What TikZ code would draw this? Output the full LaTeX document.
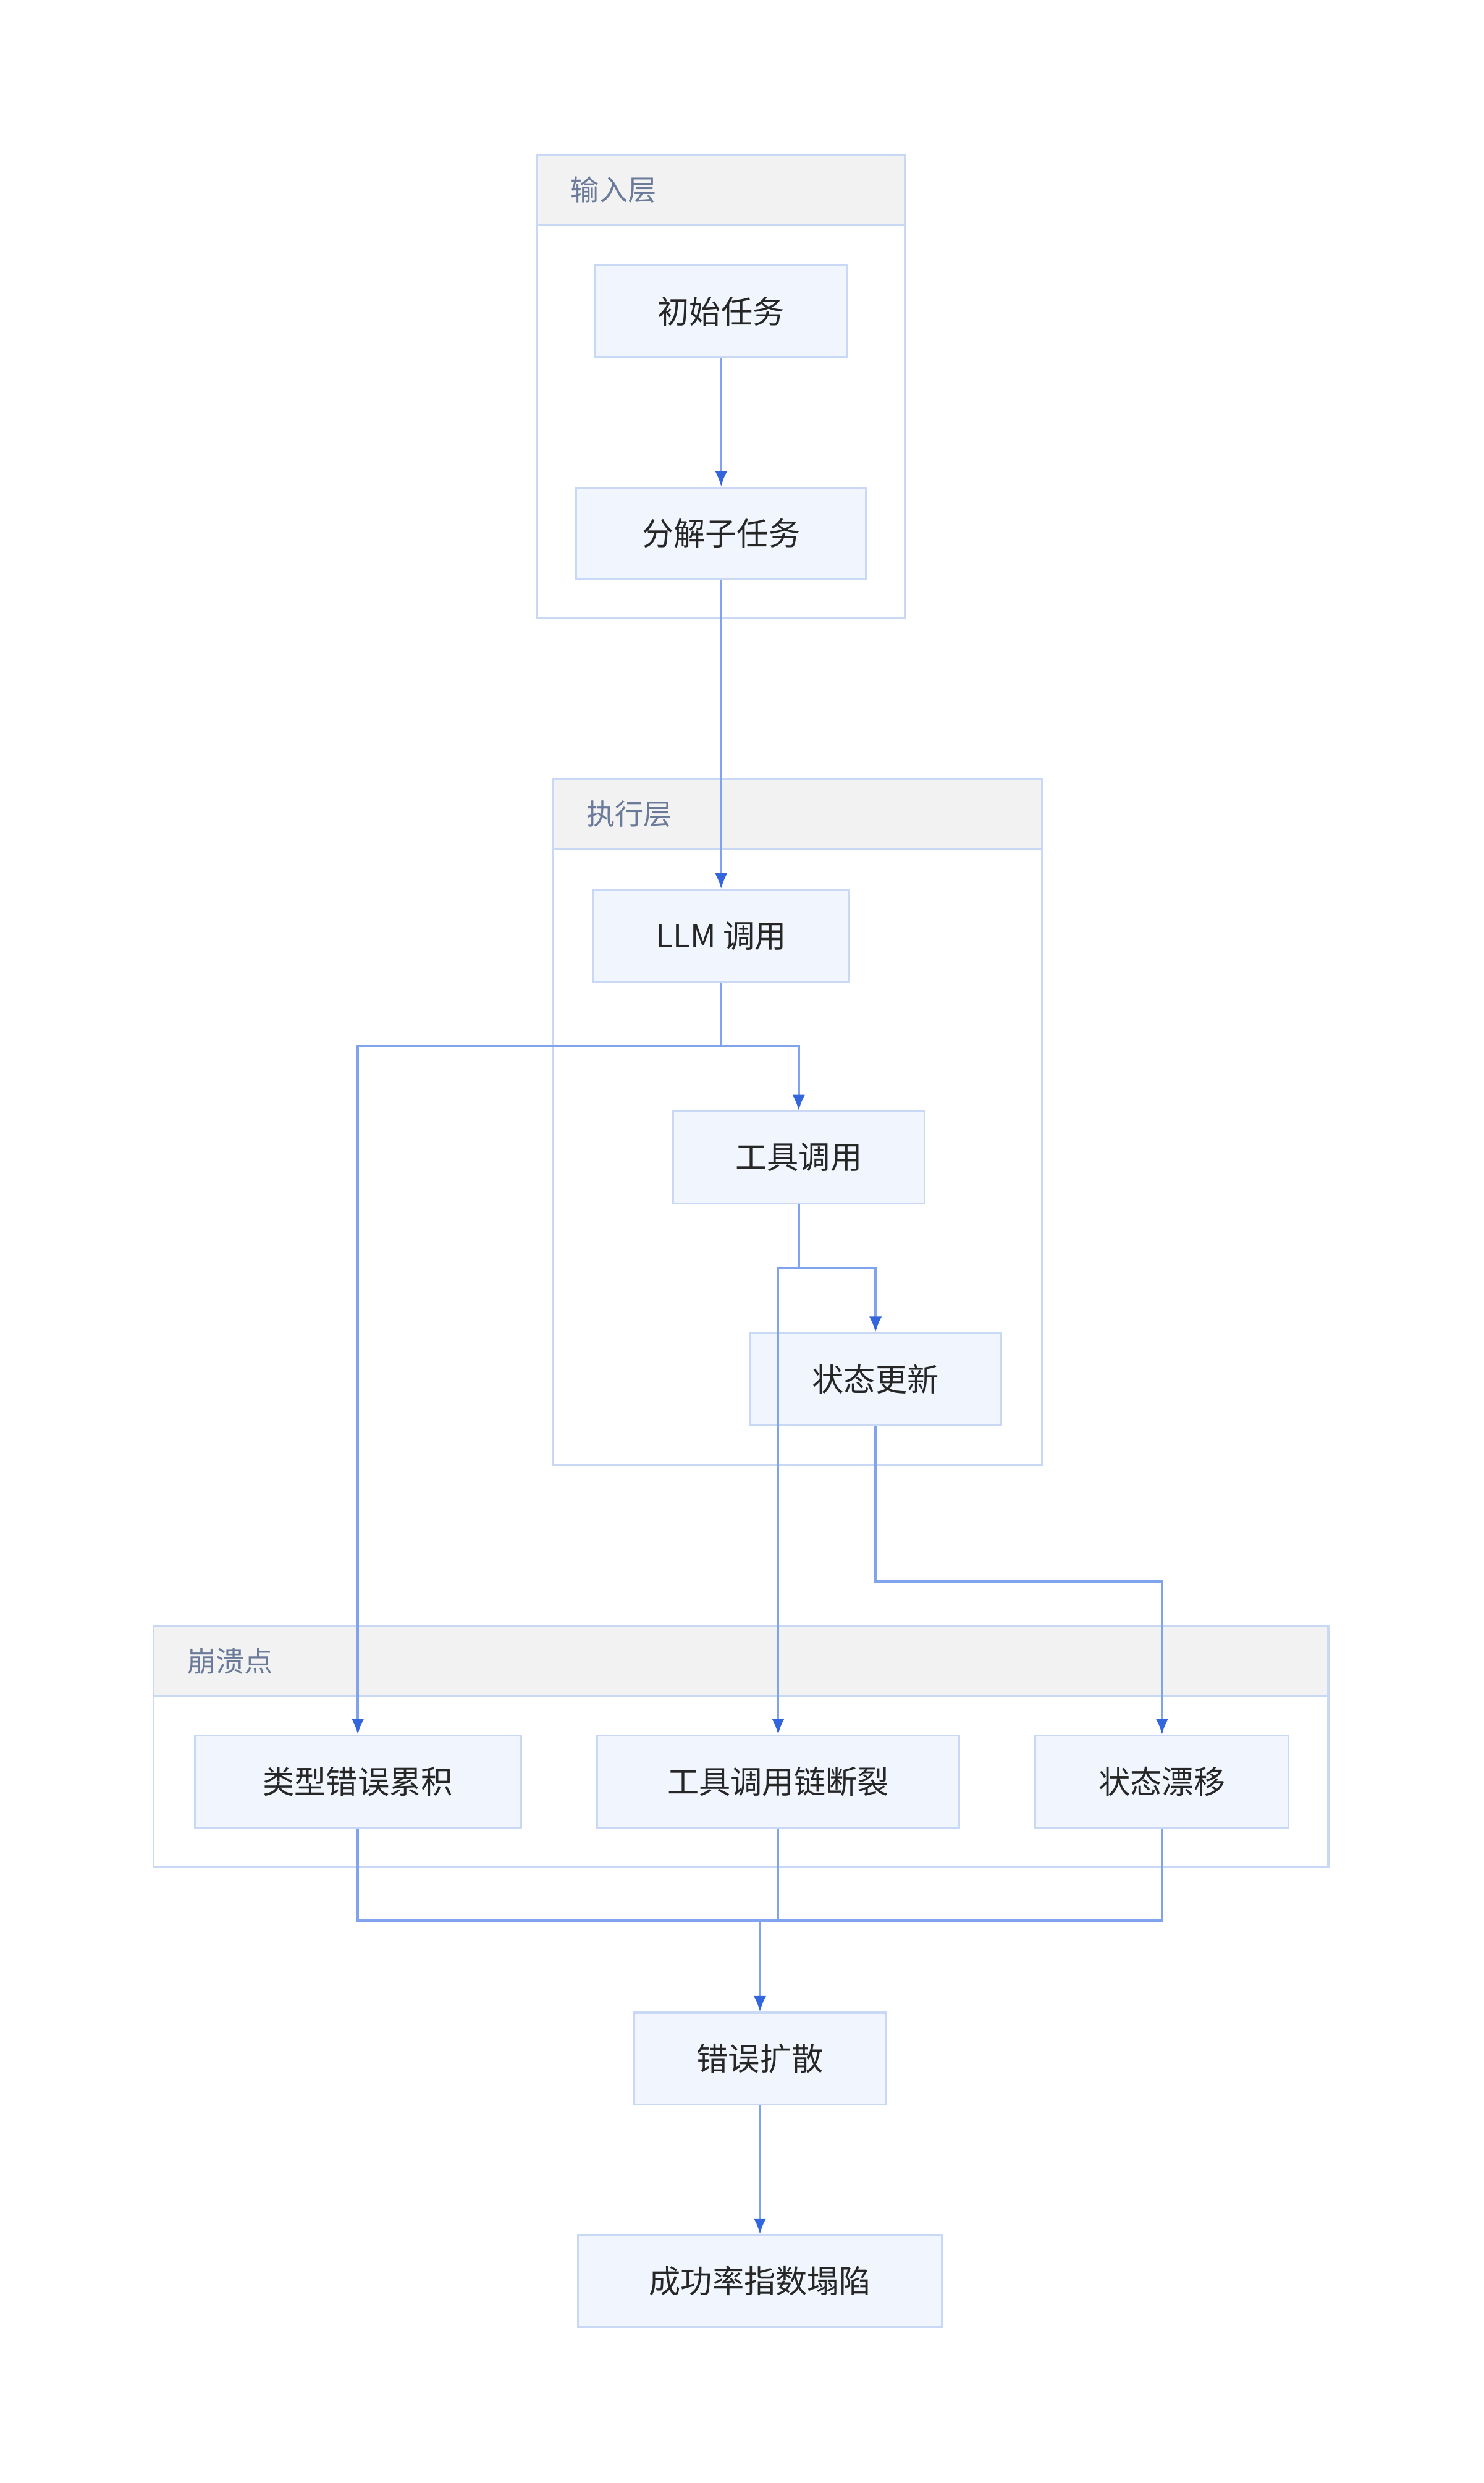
\documentclass[tikz,border=0pt]{standalone}
\usepackage{fontspec}
\setmainfont{Noto Sans CJK SC}
\usetikzlibrary{arrows.meta}
\definecolor{boxfill}{HTML}{F0F5FE}
\definecolor{boxline}{HTML}{C9D8F5}
\definecolor{edgeline}{HTML}{7FA3EC}
\definecolor{tipcol}{HTML}{3366DD}
\definecolor{headfill}{HTML}{F2F2F2}
\definecolor{grouptext}{HTML}{6B7A99}
\tikzset{
  stage/.style={draw=boxline, fill=boxfill, line width=1.2pt, minimum height=58pt,
    text=black!85, font=\fontsize{20}{24}\selectfont, inner sep=0pt},
  link/.style={draw=edgeline, line width=1.5pt, -{Latex[length=10pt,width=8pt,color=tipcol]}},
  plain/.style={draw=edgeline, line width=1.5pt},
  grouplabel/.style={anchor=west, text=grouptext, font=\fontsize{18}{22}\selectfont}
}
\newcommand{\groupbox}[6]{% x1,y1,x2,y2,name,label
  \draw[boxline, line width=1.2pt, fill=white] (#1,#2) rectangle (#3,#4);
  \draw[boxline, line width=1.2pt, fill=headfill] (#1,#2) rectangle (#3,#2+44);
  \node[grouplabel] (#5) at (#1+18,#2+22) {#6};
}
\begin{document}
\begin{tikzpicture}[x=1pt,y=-1pt]
  \useasboundingbox (0,0) rectangle (937,1568);

  % Groups
  \groupbox{339}{98}{572}{390}{gInput}{输入层}
  \groupbox{349}{492}{658}{925}{gExec}{执行层}
  \groupbox{97}{1027}{839}{1179}{gCrash}{崩溃点}

  % Stages
  \node[stage, minimum width=159pt] (task) at (455.5,196.5) {初始任务};
  \node[stage, minimum width=183pt] (split) at (455.5,337) {分解子任务};
  \node[stage, minimum width=161pt] (llm) at (455.5,591) {LLM 调用};
  \node[stage, minimum width=159pt] (tool) at (504.5,731) {工具调用};
  \node[stage, minimum width=159pt] (state) at (553,871) {状态更新};
  \node[stage, minimum width=206pt] (typeerr) at (226,1125) {类型错误累积};
  \node[stage, minimum width=229pt] (chain) at (491.5,1125) {工具调用链断裂};
  \node[stage, minimum width=160pt] (drift) at (734,1125) {状态漂移};
  \node[stage, minimum width=159pt] (spread) at (480,1300) {错误扩散};
  \node[stage, minimum width=230pt] (collapse) at (480,1440.5) {成功率指数塌陷};

  % Connectors
  \draw[link] (task) -- (split);
  \draw[link] (split) -- (llm);
  \draw[link] (llm.south) -- ++(0,40) -| (tool.north);
  \draw[link] (llm.south) -- ++(0,40) -| (typeerr.north);
  \draw[link] (tool.south) -- ++(0,40) -| (state.north);
  \draw[link] (tool.south) -- ++(0,40) -| (chain.north);
  \draw[link] (state.south) -- ++(0,98) -| (drift.north);
  \coordinate (merge) at (480,1213);
  \draw[plain] (typeerr.south) |- (merge);
  \draw[plain] (chain.south) |- (merge);
  \draw[plain] (drift.south) |- (merge);
  \draw[link] (merge) -- (spread.north);
  \draw[link] (spread) -- (collapse);
\end{tikzpicture}
\end{document}
